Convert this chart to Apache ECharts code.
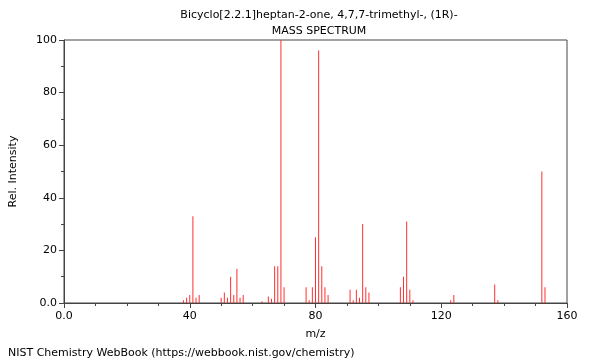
<!DOCTYPE html>
<html>
<head>
<meta charset="utf-8">
<script src="https://cdn.jsdelivr.net/npm/echarts@6/dist/echarts.min.js"></script>
<style>html,body{margin:0;padding:0;background:#fff}#c{width:600px;height:360px}</style>
</head>
<body>
<div id="c"></div>
<script>
const mzValues = [38,39,40,41,42,43,50,51,52,53,54,55,56,57,63,65,66,67,68,69,70,77,78,79,80,81,82,83,84,91,92,93,94,95,96,97,107,108,109,110,111,123,124,137,138,152,153];
const intensities = [1,2,3,33,2,3,2,4,2,10,3,13,2,3,0.7,2.5,1.6,14,14,100,6,6,1,6,25,96,14,6,3,5,1,5,2,30,6,4,6,10,31,5,1,1,3,7,1,50,6];
const xTicks = [0,40,80,120,160];
const yTicks = [0,20,40,60,80,100];
const titleLine1 = 'Bicyclo[2.2.1]heptan-2-one, 4,7,7-trimethyl-, (1R)-';
const titleLine2 = 'MASS SPECTRUM';
const footer = 'NIST Chemistry WebBook (https://webbook.nist.gov/chemistry)';

const chart = echarts.init(document.getElementById('c'), null, {renderer:'canvas'});
const font = 'DejaVu Sans';
const fmt = v => v === 0 ? '0.0' : String(v);
chart.setOption({
  animation:false,
  textStyle:{fontFamily:font},
  title:[
    {text:titleLine1, left:314, top:5, textAlign:'center', textStyle:{fontSize:11, fontWeight:'normal', color:'#000', fontFamily:font}},
    {text:titleLine2, left:314, top:21, textAlign:'center', textStyle:{fontSize:11, fontWeight:'normal', color:'#000', fontFamily:font}},
    {text:footer, left:3, top:343, textStyle:{fontSize:11, fontWeight:'normal', color:'#000', fontFamily:font}}
  ],
  grid:{left:61, right:33, top:40, bottom:57, show:true, borderColor:'#444', borderWidth:1, backgroundColor:'transparent'},
  xAxis:{
    type:'value', min:xTicks[0], max:xTicks[xTicks.length-1], interval:40,
    name:'m/z', nameLocation:'middle', nameGap:26, nameTextStyle:{fontSize:11, color:'#000', fontFamily:font},
    axisLine:{show:true, lineStyle:{color:'#444'}},
    axisTick:{show:true, inside:false, length:5, lineStyle:{color:'#444'}},
    minorTick:{show:true, splitNumber:4, length:3, lineStyle:{color:'#444'}},
    splitLine:{show:false},
    axisLabel:{formatter:fmt, fontSize:11, color:'#000', margin:8, fontFamily:font}
  },
  yAxis:{
    type:'value', min:yTicks[0], max:yTicks[yTicks.length-1], interval:20,
    name:'Rel. Intensity', nameLocation:'middle', nameGap:45, nameRotate:90, nameTextStyle:{fontSize:11, color:'#000', fontFamily:font},
    axisLine:{show:true, lineStyle:{color:'#444'}},
    axisTick:{show:true, inside:false, length:5, lineStyle:{color:'#444'}},
    minorTick:{show:true, splitNumber:2, length:3, lineStyle:{color:'#444'}},
    splitLine:{show:false},
    axisLabel:{formatter:fmt, fontSize:11, color:'#000', margin:7, fontFamily:font}
  },
  series:[{
    type:'bar',
    data: mzValues.map((m,i)=>[m, intensities[i]]),
    barWidth:1,
    itemStyle:{color:'#ff3030'},
    silent:true
  }]
});
</script>
</body>
</html>
